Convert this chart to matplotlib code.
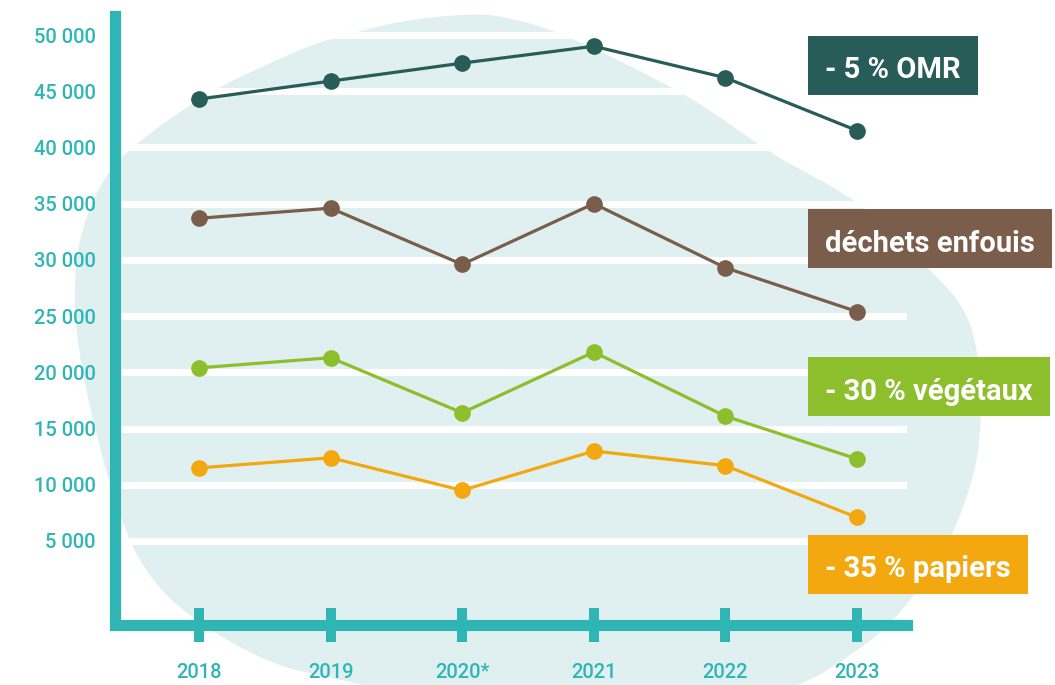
import matplotlib
matplotlib.use("Agg")
import matplotlib.pyplot as plt
from matplotlib.path import Path
from matplotlib.patches import PathPatch, Rectangle
import numpy as np

# data
years = ["2018", "2019", "2020*", "2021", "2022", "2023"]
omr = [44300, 45900, 47500, 49000, 46200, 41500]
enfouis = [33700, 34600, 29600, 35000, 29300, 25400]
vegetaux = [20400, 21300, 16400, 21800, 16100, 12300]
papiers = [11500, 12400, 9500, 13000, 11700, 7100]

y_ticks = [5000, 10000, 15000, 20000, 25000, 30000, 35000, 40000, 45000, 50000]
y_tick_labels = ["5 000", "10 000", "15 000", "20 000", "25 000",
                 "30 000", "35 000", "40 000", "45 000", "50 000"]

series = [omr, enfouis, vegetaux, papiers]
series_labels = ["- 5 % OMR", "déchets enfouis", "- 30 % végétaux", "- 35 % papiers"]
colors = ["#285c59", "#7a5e4b", "#8dbe2b", "#f3a80f"]

TEAL = "#30b5b5"
BLOB = "#e0f0f0"
W, H = 1055, 685
FONT = "Roboto"

# label box vertical centres, in pixels from the top
label_centers = [65.5, 238.5, 386.5, 564]
label_left = 808

# background blob outline, in pixels (decoration only)
blob_outline = [(463, 15), (507, 18), (570, 38), (683, 94), (775, 155), (857, 203),
                (930, 270), (967, 317), (980, 380), (978, 450), (962, 510), (935, 565),
                (893, 620), (850, 655), (797, 685), (700, 712), (500, 712), (350, 682),
                (267, 660), (187, 613), (140, 560), (110, 483), (87, 393), (77, 333),
                (75, 287), (80, 240), (100, 187), (132, 148), (210, 93), (300, 50),
                (343, 36), (400, 22)]


def fx(px):
    return px / W


def fy(py):
    return 1 - py / H


def smooth_closed(pts):
    pts = np.asarray(pts, float)
    n = len(pts)
    verts = [pts[0]]
    codes = [Path.MOVETO]
    for i in range(n):
        p0, p1, p2, p3 = pts[i - 1], pts[i], pts[(i + 1) % n], pts[(i + 2) % n]
        verts += [p1 + (p2 - p0) / 6, p2 - (p3 - p1) / 6, p2]
        codes += [Path.CURVE4] * 3
    return Path(verts, codes)


fig = plt.figure(figsize=(W / 100, H / 100), dpi=100)

blob_pts = [(fx(x), fy(y)) for x, y in blob_outline]
fig.patches.append(PathPatch(smooth_closed(blob_pts), transform=fig.transFigure,
                             facecolor=BLOB, edgecolor="none", zorder=-5))

# axes box (spine caps add half a line width at the ends)
ax_left, ax_right, ax_bottom, ax_top = 115, 907, 625, 16
ax = fig.add_axes([fx(ax_left), fy(ax_bottom), fx(ax_right - ax_left),
                   (ax_bottom - ax_top) / H])
ax.patch.set_visible(False)

x = np.arange(len(years))
for vals, c in zip(series, colors):
    ax.plot(x, vals, color=c, linewidth=2.3, marker="o", markersize=11, zorder=3)

ax.set_xlim((ax_left - 199) / 131.6, (ax_right - 199) / 131.6)
ax.set_ylim((597.2 - ax_bottom) / 11.244 * 1000, (597.2 - ax_top) / 11.244 * 1000)

ax.set_yticks(y_ticks)
ax.set_yticklabels(y_tick_labels)
ax.set_xticks(x)
ax.set_xticklabels(years)

ax.grid(axis="y", color="white", linewidth=5)
ax.set_axisbelow(True)

for s in ["top", "right"]:
    ax.spines[s].set_visible(False)
for s in ["left", "bottom"]:
    ax.spines[s].set_color(TEAL)
    ax.spines[s].set_linewidth(8)

ax.tick_params(axis="y", length=0, pad=14, labelcolor=TEAL, labelsize=14.5)
ax.tick_params(axis="x", direction="inout", length=25, width=7.2, color=TEAL,
               pad=15, labelcolor=TEAL, labelsize=14.5)
for t in ax.get_xticklabels() + ax.get_yticklabels():
    t.set_fontfamily(FONT)
    t.set_fontweight("medium")

# coloured label boxes on the right
renderer = fig.canvas.get_renderer()
for lab, c, cy in zip(series_labels, colors, label_centers):
    t = fig.text(fx(label_left + 17), fy(cy + 13), lab, ha="left", va="baseline",
                 color="white", fontsize=21, fontweight="bold", family=FONT, zorder=6)
    bb = t.get_window_extent(renderer)
    rect = Rectangle((fx(label_left), fy(cy + 29.5)), fx(bb.width + 34), 59 / H,
                     transform=fig.transFigure, facecolor=c, edgecolor="none", zorder=5)
    fig.patches.append(rect)

fig.savefig("out.png", dpi=100)
